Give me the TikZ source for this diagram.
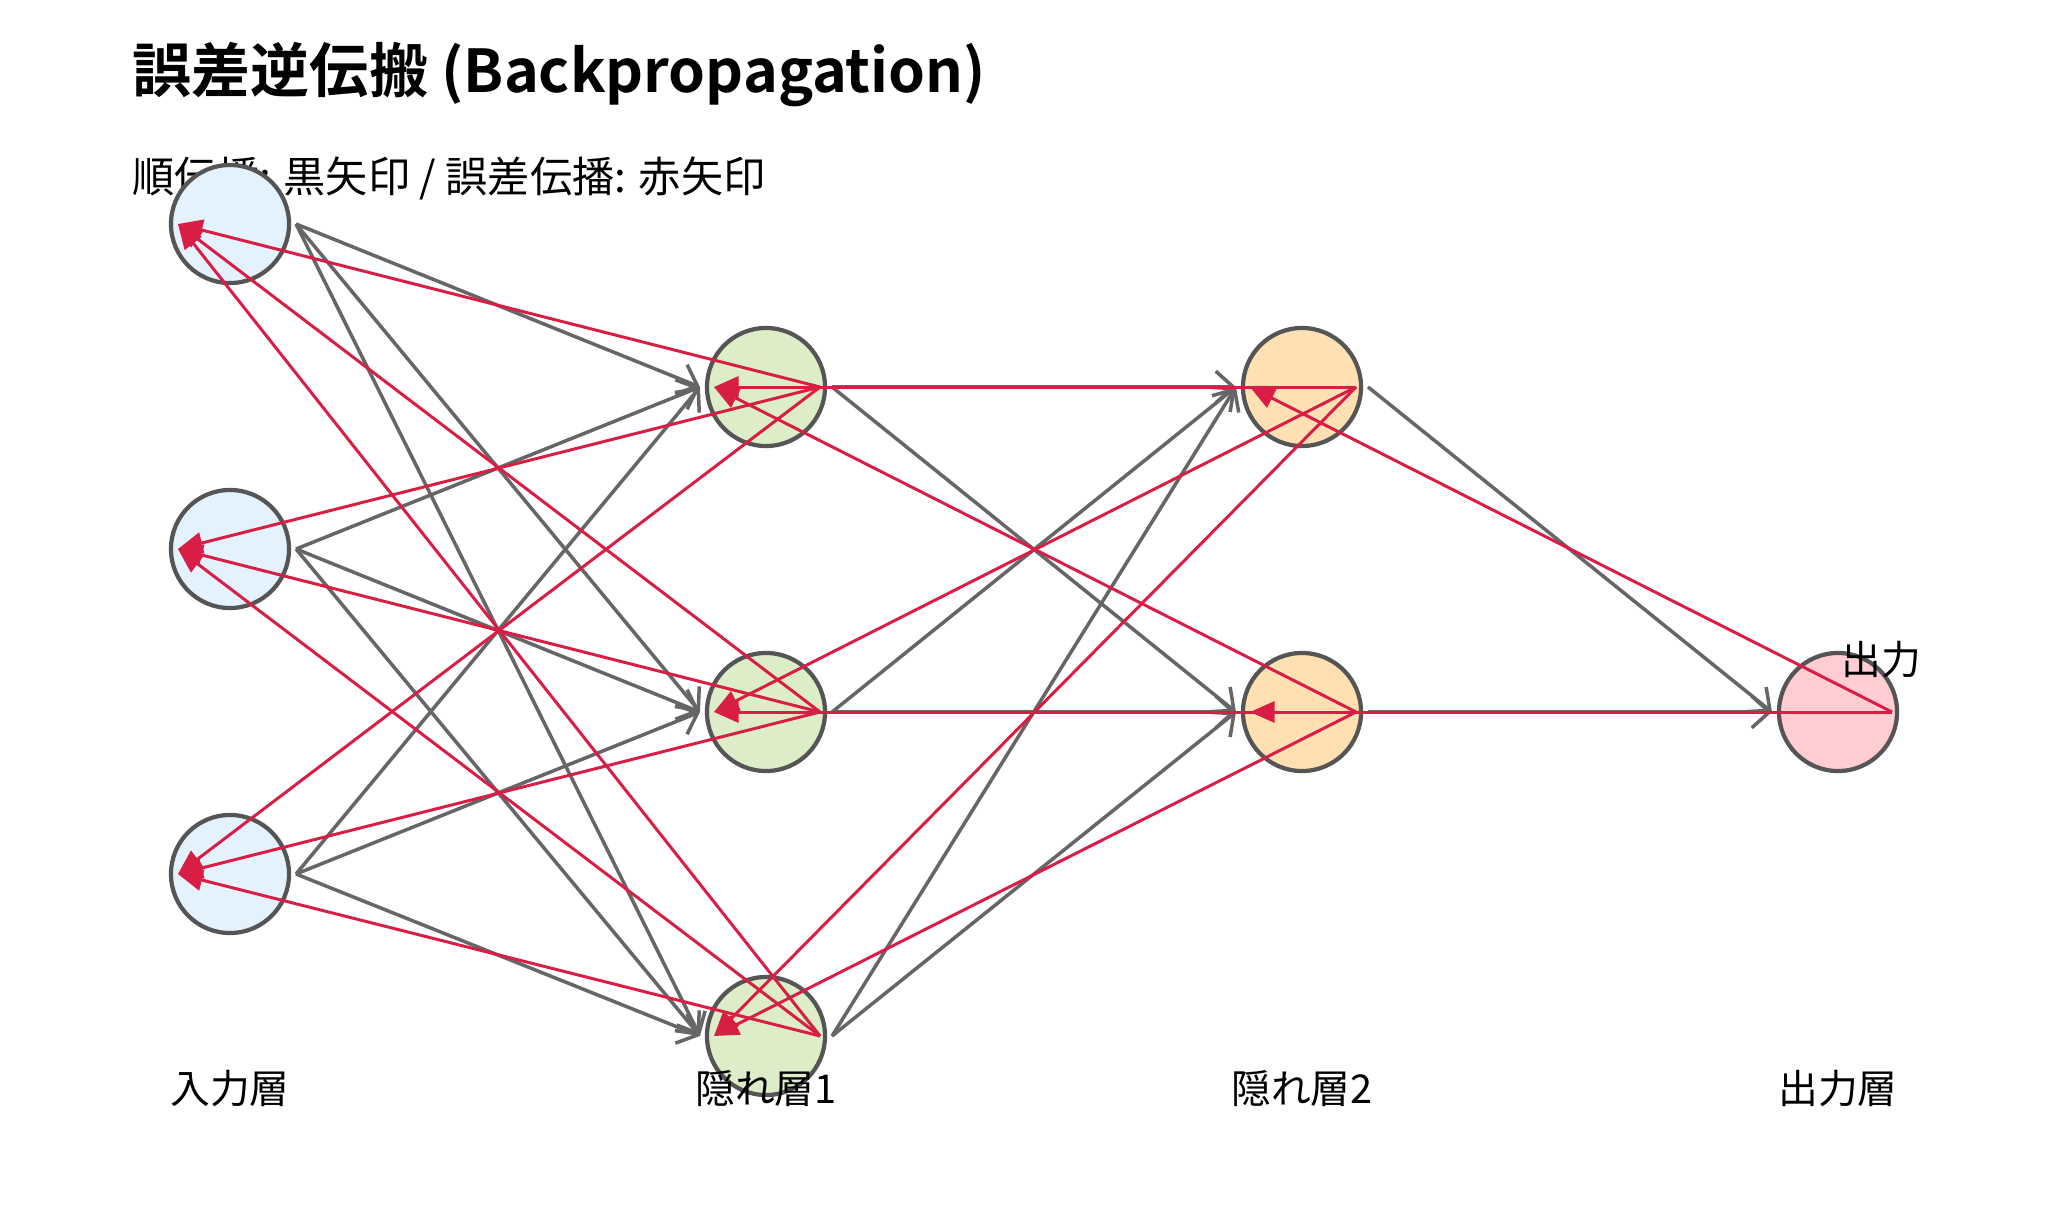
\documentclass[tikz,border=0pt]{standalone}
\usepackage{fontspec}
\setmainfont{Noto Sans CJK JP}[BoldFont={Noto Sans CJK JP Bold}]
\usetikzlibrary{arrows.meta}
\definecolor{inblue}{HTML}{E3F2FD}
\definecolor{hidgreen}{HTML}{DCEDC8}
\definecolor{hidorange}{HTML}{FFE0B2}
\definecolor{outpink}{HTML}{FFCDD2}
\definecolor{rimgray}{HTML}{555555}
\definecolor{fwdgray}{HTML}{666666}
\definecolor{errred}{HTML}{D81E45}
\begin{document}
\begin{tikzpicture}[x=0.01cm, y=-0.01cm,
  neuron/.style={circle, draw=rimgray, line width=1.2pt, minimum size=1.18cm, inner sep=0pt},
  fwd/.style={draw=fwdgray, line width=1pt, -{Straight Barb[length=5pt,width=9pt]}},
  bwd/.style={draw=errred, line width=0.85pt, -{Triangle[length=7pt,width=6pt]}},
  lbl/.style={font=\fontsize{11.3}{13}\selectfont}]
  \useasboundingbox (0,0) rectangle (2070,1230);
  % title
  \node[anchor=west, inner sep=0pt, font=\bfseries\fontsize{16.8}{20}\selectfont] (title) at (132,75) {誤差逆伝搬 (Backpropagation)};
  \node[anchor=west, inner sep=0pt, font=\fontsize{12}{14}\selectfont] (sub) at (132,178) {順伝播: 黒矢印 / 誤差伝播: 赤矢印};
  % neurons
  \foreach \i/\y in {1/224, 2/549, 3/874} \node[neuron, fill=inblue] (in\i) at (230,\y) {};
  \foreach \i/\y in {1/387, 2/712, 3/1036} \node[neuron, fill=hidgreen] (ha\i) at (766,\y) {};
  \foreach \i/\y in {1/387, 2/712} \node[neuron, fill=hidorange] (hb\i) at (1302,\y) {};
  \node[neuron, fill=outpink] (out) at (1838,712) {};
  % forward
  \foreach \a in {in1,in2,in3} \foreach \b in {ha1,ha2,ha3}
    \draw[fwd] ([xshift=0.66cm]\a.center) -- ([xshift=-0.66cm]\b.center);
  \foreach \a in {ha1,ha2,ha3} \foreach \b in {hb1,hb2}
    \draw[fwd] ([xshift=0.66cm]\a.center) -- ([xshift=-0.66cm]\b.center);
  \foreach \a in {hb1,hb2}
    \draw[fwd] ([xshift=0.66cm]\a.center) -- ([xshift=-0.66cm]out.center);
  % error
  \foreach \a in {in1,in2,in3} \foreach \b in {ha1,ha2,ha3}
    \draw[bwd] ([xshift=0.54cm]\b.center) -- ([xshift=-0.52cm]\a.center);
  \foreach \a in {ha1,ha2,ha3} \foreach \b in {hb1,hb2}
    \draw[bwd] ([xshift=0.54cm]\b.center) -- ([xshift=-0.52cm]\a.center);
  \foreach \a in {hb1,hb2}
    \draw[bwd] ([xshift=0.54cm]out.center) -- ([xshift=-0.52cm]\a.center);
  % labels
  \node[lbl] (outlbl) at (1881,660) {出力};
  \node[lbl] (linput) at (230,1089) {入力層};
  \node[lbl] (lhida) at (766,1089) {隠れ層1};
  \node[lbl] (lhidb) at (1302,1089) {隠れ層2};
  \node[lbl] (lout) at (1838,1089) {出力層};
\end{tikzpicture}
\end{document}
